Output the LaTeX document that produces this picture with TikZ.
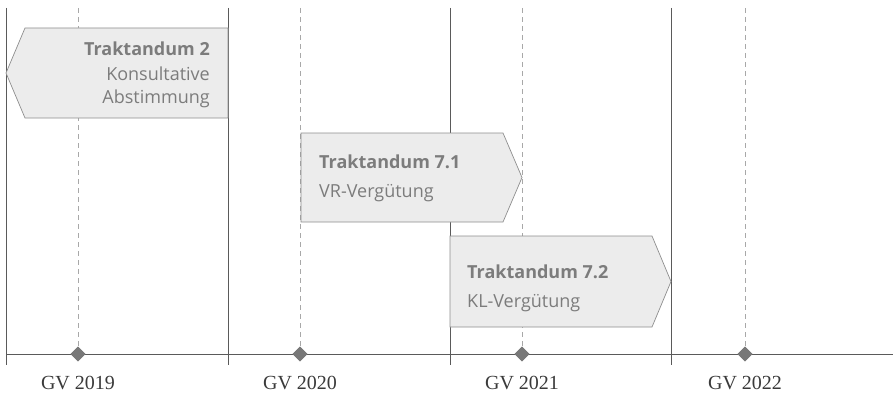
\documentclass[tikz,border=0pt]{standalone}
\usepackage{fontspec}
\setmainfont{Liberation Serif}
\newfontfamily\boxfont{Open Sans}
\usepackage{xcolor}
\usepackage{tikz}
\usetikzlibrary{shapes.geometric, positioning}

\definecolor{linegray}{HTML}{5A5A5A}
\definecolor{dashgray}{HTML}{A8A8A8}
\definecolor{boxfill}{HTML}{ECECEC}
\definecolor{boxline}{HTML}{8E8E8E}
\definecolor{boxtext}{HTML}{7C7C7C}
\definecolor{marker}{HTML}{787878}
\definecolor{labeltext}{HTML}{3A3A3A}

\begin{document}
\begin{tikzpicture}[x=1pt, y=-1pt,
    yearline/.style={draw=linegray, line width=0.9pt},
    guide/.style={draw=dashgray, line width=0.9pt, dash pattern=on 5pt off 4pt},
    agenda/.style={fill=boxfill, draw=boxline, line width=0.7pt},
    agendatext/.style={inner sep=0pt, text=boxtext, font={\boxfont\fontsize{18}{23}\selectfont}},
    gvmark/.style={diamond, fill=marker, minimum size=15pt, inner sep=0pt},
    gvlabel/.style={anchor=base, text=labeltext, font={\fontsize{20}{22}\selectfont}}]
    \useasboundingbox (0,0) rectangle (893,393);

    % GV markers on the axis
    \node[gvmark] (d2019) at (78,354) {};
    \node[gvmark] (d2020) at (300,354) {};
    \node[gvmark] (d2021) at (522,354) {};
    \node[gvmark] (d2022) at (745,354) {};

    % Dashed guides (one per GV)
    \draw[guide] (78,8) -- (d2019.north);
    \draw[guide] (300,8) -- (d2020.north);
    \draw[guide] (522,8) -- (d2021.north);
    \draw[guide] (745,8) -- (d2022.north);

    % Year borders
    \draw[yearline] (6,8) -- (6,365);
    \draw[yearline] (228,8) -- (228,365);
    \draw[yearline] (450,8) -- (450,365);
    \draw[yearline] (671,8) -- (671,365);

    % Agenda items
    \filldraw[agenda] (25,28) -- (228,28) -- (228,118) -- (25,118) -- (6,73) -- cycle;
    \filldraw[agenda] (301,133) -- (503,133) -- (522,177.5) -- (503,222) -- (301,222) -- cycle;
    \filldraw[agenda] (450,236) -- (652,236) -- (671,281.5) -- (652,327) -- (450,327) -- cycle;

    \node[agendatext, anchor=north east, align=right] (trakt2) at (210,42)
        {\bfseries Traktandum 2\\[2pt] Konsultative\\ Abstimmung};
    \node[agendatext, anchor=north west, align=left] (trakt71) at (319,155)
        {\bfseries Traktandum 7.1\\[6pt] VR-Vergütung};
    \node[agendatext, anchor=north west, align=left] (trakt72) at (467,265)
        {\bfseries Traktandum 7.2\\[6pt] KL-Vergütung};

    % Time axis
    \draw[yearline] (6,354) -- (893,354);
    \node[gvmark] at (d2019) {};
    \node[gvmark] at (d2020) {};
    \node[gvmark] at (d2021) {};
    \node[gvmark] at (d2022) {};

    % Labels
    \node[gvlabel] (gv2019) at (78,389) {GV 2019};
    \node[gvlabel] (gv2020) at (300,389) {GV 2020};
    \node[gvlabel] (gv2021) at (522,389) {GV 2021};
    \node[gvlabel] (gv2022) at (745,389) {GV 2022};
\end{tikzpicture}
\end{document}
